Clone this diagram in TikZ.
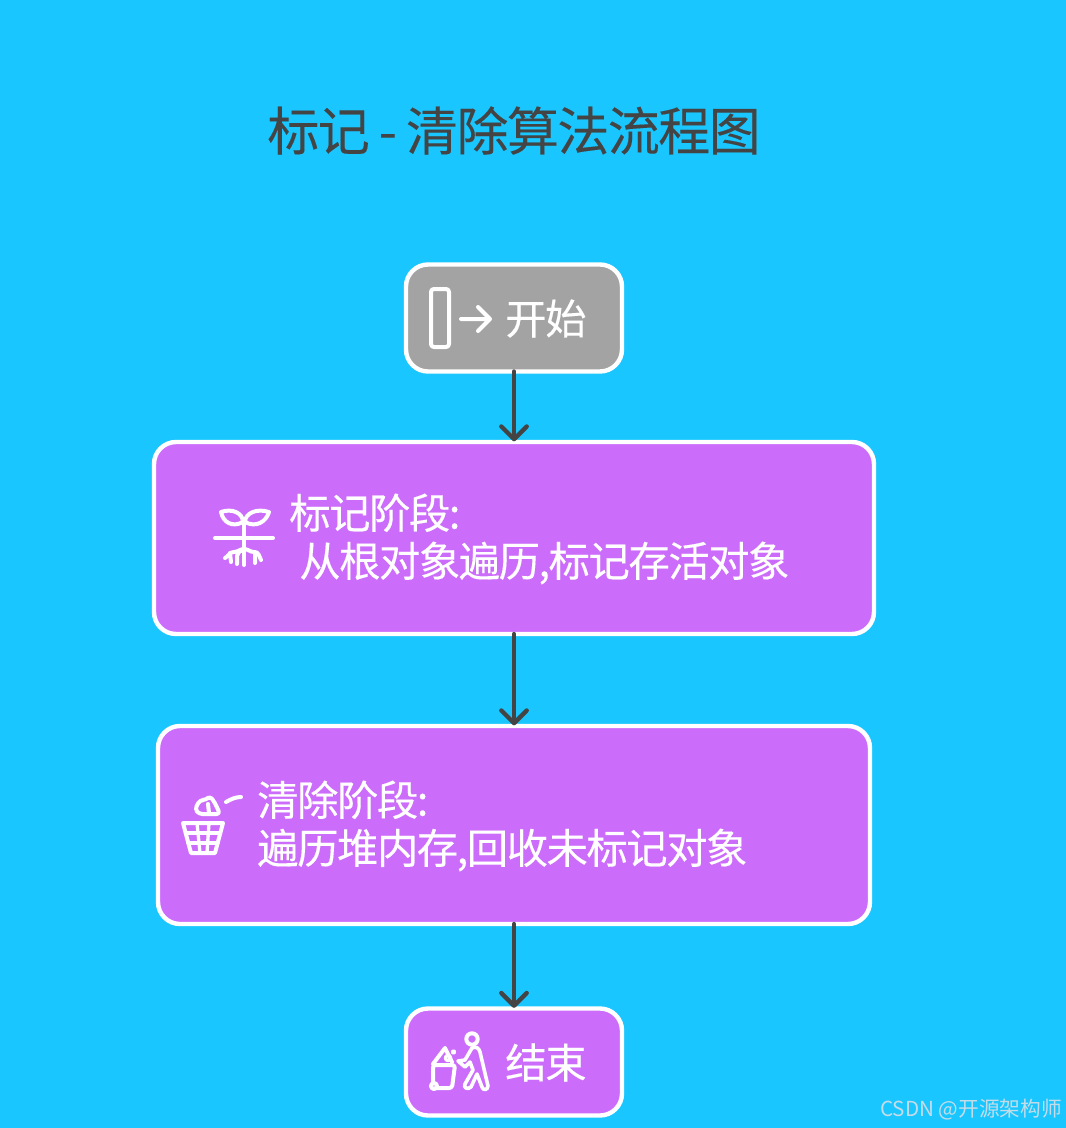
\documentclass[tikz,border=0pt]{standalone}
\usepackage{fontspec}
\setmainfont{Noto Sans CJK SC}
\newfontfamily\titlefont[LetterSpace=-3,WordSpace=0.9,FakeBold=0.15]{Noto Sans CJK SC}
\newfontfamily\labelfont[LetterSpace=-3.5,FakeBold=0.25]{Noto Sans CJK SC}
\usetikzlibrary{arrows.meta}
\definecolor{bgblue}{HTML}{1AC6FF}
\definecolor{boxpurple}{HTML}{CC6CFB}
\definecolor{boxgray}{HTML}{A3A3A3}
\definecolor{inkgray}{HTML}{444444}
\definecolor{markgray}{HTML}{C4DCE8}
\tikzset{
  flowbox/.style={draw=white,line width=3.3pt,rounded corners=16.5pt,minimum height=#1,inner sep=0pt,outer sep=0pt},
  boxlabel/.style={text=white,font=\labelfont\fontsize{31pt}{36pt}\selectfont,anchor=west,inner sep=0pt,align=left},
  flowarrow/.style={draw=inkgray,line width=3.3pt,line cap=round,-{Straight Barb[length=9.5pt,width=19pt,line width=3.3pt,round]},shorten >=0.5pt},
  iconline/.style={draw=white,line width=3pt,line cap=round,line join=round},
  iconthin/.style={draw=white,line width=2.5pt,line cap=round,line join=round}
}
\begin{document}
\begin{tikzpicture}[x=0.75pt,y=-0.75pt]
\useasboundingbox (0,0) rectangle (1066,1128);
\fill[bgblue] (0,0) rectangle (1066,1128);

\node[text=inkgray,font=\titlefont\fontsize{39pt}{45pt}\selectfont,inner sep=0pt] (title) at (514,130.5) {标记 - 清除算法流程图};

\node[flowbox=80.25pt,fill=boxgray,minimum width=162pt] (start) at (514,318) {};
\node[flowbox=144pt,fill=boxpurple,minimum width=540pt] (mark) at (514,538) {};
\node[flowbox=148.5pt,fill=boxpurple,minimum width=534pt] (sweep) at (514,825) {};
\node[flowbox=80.25pt,fill=boxpurple,minimum width=162pt] (finish) at (514,1062) {};

\draw[flowarrow] (start) -- (mark);
\draw[flowarrow] (mark) -- (sweep);
\draw[flowarrow] (sweep) -- (finish);

\node[boxlabel] (startlabel) at (505,318.5) {开始};
\node[boxlabel] (marklabel) at (289,539) {标记阶段:\\\hspace*{7.5pt}从根对象遍历,标记存活对象};
\node[boxlabel] (sweeplabel) at (257,826) {清除阶段:\\遍历堆内存,回收未标记对象};
\node[boxlabel] (finishlabel) at (505,1062.5) {结束};

\node[text=markgray,font=\fontsize{15.5pt}{18pt}\selectfont,anchor=east,inner sep=0pt] (watermark) at (1062,1110) {CSDN @开源架构师};

% start icon
\draw[iconline,rounded corners=2.2pt] (431,289) rectangle (449,347);
\draw[iconline] (461,319) -- (489,319) (478,307) -- (490,319) -- (478,331);

% plant icon
\draw[iconline] (215,538) -- (273,538) (244,522) -- (244,565);
\draw[iconline] (243,522) .. controls (243,513) and (232,508) .. (221,512) .. controls (223,522) and (232,528) .. (243,522);
\draw[iconline] (245,522) .. controls (245,513) and (257,508) .. (269,512) .. controls (266,522) and (256,528) .. (245,522);
\draw[iconline] (225,558) .. controls (229,556) and (229,552) .. (234,552) .. controls (238,552) and (240,549) .. (244,549) .. controls (248,549) and (250,552) .. (254,552) .. controls (259,552) and (259,556) .. (261,560);
\draw[iconline] (230,553) -- (231,562) (237,564) -- (237,556) .. controls (237,553) and (240,551) .. (242,550) (255,552) -- (255,563);

% bin icon
\draw[iconline] (183,823) -- (223,823) -- (215,853) -- (191,853) -- cycle;
\draw[iconthin] (186,833) -- (220,833) (188,843) -- (218,843);
\draw[iconthin] (197,823) -- (200,853) (209,823) -- (207,853);
\draw[iconline,rounded corners=2.5pt] (195,809) -- (200,800) -- (206,800) -- (210,796) -- (215,803) -- (220,814) -- (199,814) -- cycle;
\draw[iconline] (208,804) -- (209,813);
\draw[iconline] (226,802) .. controls (231,799) and (236,797) .. (241,797);

% worker icon
\draw[iconline] (472,1039) circle (5.7);
\draw[iconline,rounded corners=2pt] (433,1065) -- (433,1088) -- (452,1088) -- (455,1065) -- cycle;
\draw[iconline] (433,1064) -- (445,1048) -- (452,1062);
\draw[iconline,fill=boxpurple] (434,1086) circle (3);
\draw[iconthin] (448,1058) circle (2.6);
\draw[iconthin] (453.5,1052) circle (1.2);
\draw[iconthin,line width=2.7pt] (458,1061) -- (465,1060) -- (472,1048) .. controls (476,1046) and (479,1048) .. (480,1052) -- (488,1086) .. controls (488,1090) and (483,1091) .. (482,1087) -- (477,1074) -- (471,1087) .. controls (468,1090) and (463,1088) .. (465,1084) -- (473,1070) -- (470,1062) -- (465,1067) -- cycle;
\end{tikzpicture}
\end{document}
